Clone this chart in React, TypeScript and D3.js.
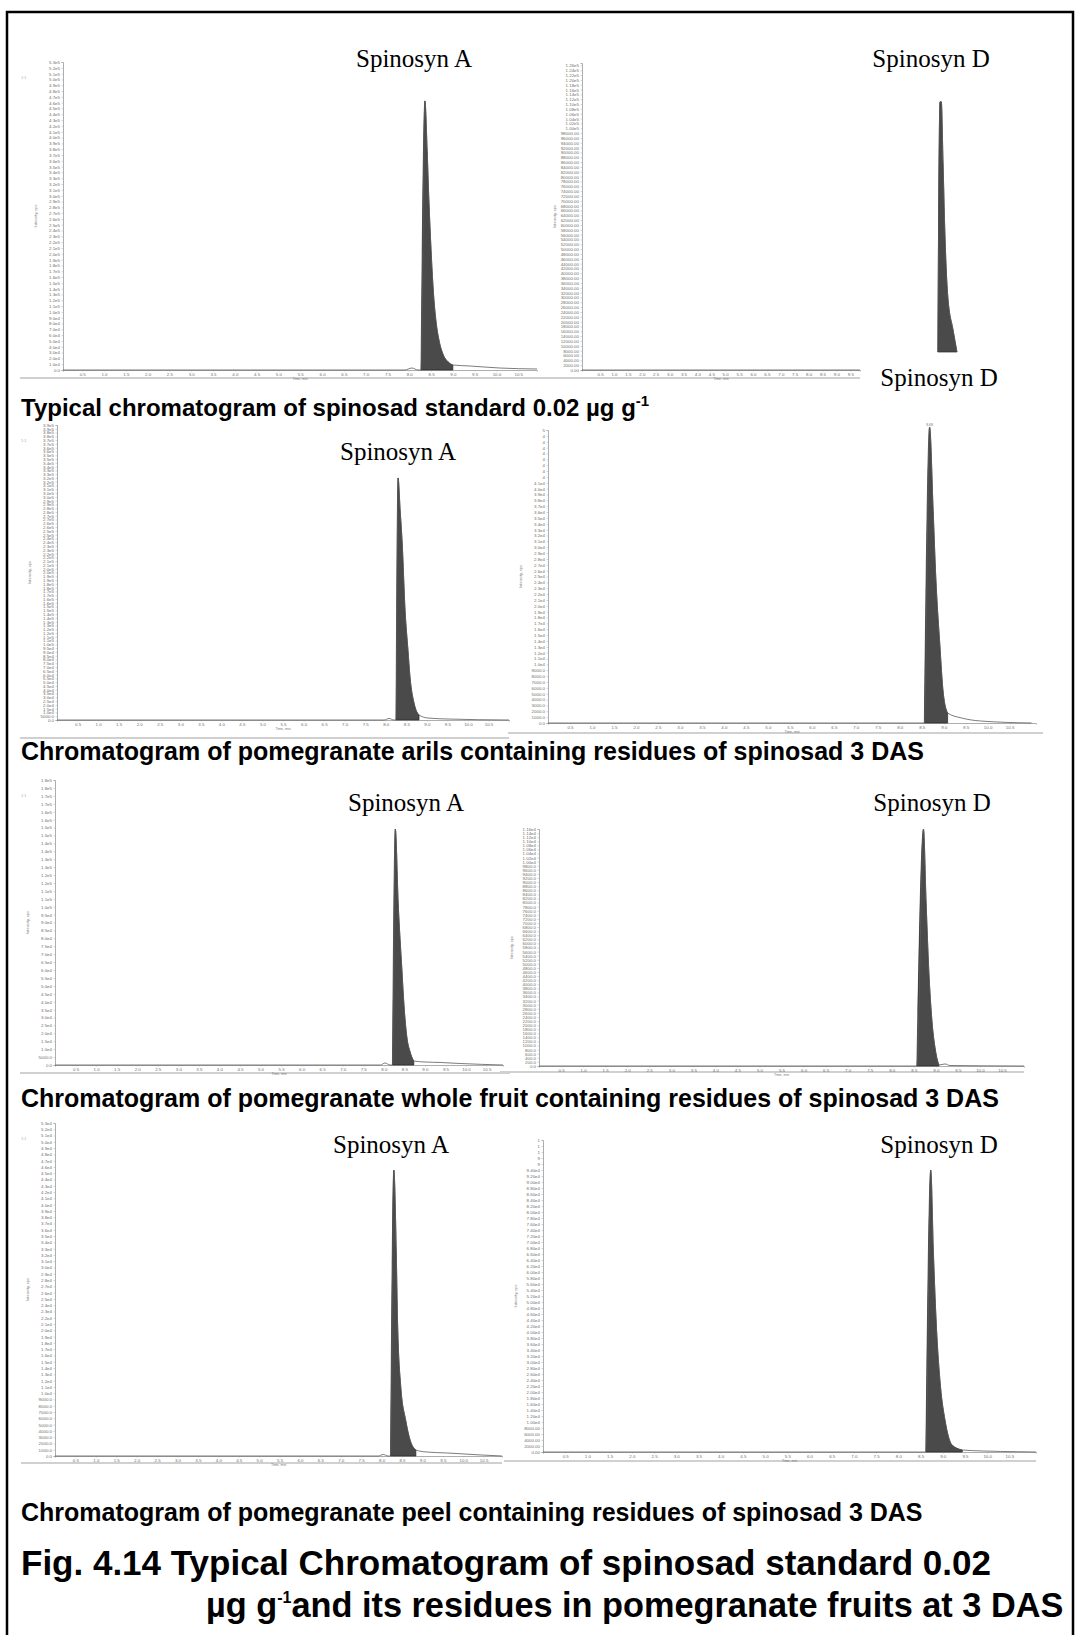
import React, { useEffect, useRef } from 'react';
import * as d3 from 'd3';

// retention time (min) and intensity (cps) of each trace
const p1Time = [0.06, 7.90, 8.06, 8.20, 8.27, 8.36, 8.41, 8.45, 8.50, 8.55, 8.61, 8.68, 8.78, 8.89, 9.00, 9.39, 10.08, 10.93];
const p1Int = [0, 0, 3400, 0, 0, 463000, 379000, 293000, 207000, 138000, 86000, 52000, 26000, 14000, 8600, 6900, 3400, 1700];
const p1Fill = [8.27, 9.00];

const p2Time = [-0.15, 9.85];
const p2Int = [0, 0];

// the Spinosyn D peak pasted beside the second trace
const p2PeakTime = [7.79, 7.84, 7.87, 7.91, 7.95, 8.02, 8.14, 8.23];
const p2PeakInt = [0, 107700, 107700, 81400, 52500, 23700, 9500, 0];
const p2PeakFill = [7.79, 8.23];

const p3Time = [0, 7.96, 8.08, 8.20, 8.25, 8.30, 8.35, 8.40, 8.47, 8.54, 8.59, 8.69, 8.81, 9.03, 9.52, 11.0];
const p3Int = [0, 0, 2000, 0, 0, 320000, 278000, 234000, 145000, 93000, 57000, 22000, 6600, 2600, 1300, 0];
const p3Fill = [8.25, 8.81];

const p4Time = [0, 8.56, 8.68, 8.76, 8.82, 8.91, 8.99, 9.09, 9.41, 9.84, 11.0];
const p4Int = [0, 0, 50500, 36300, 24900, 13600, 5100, 1700, 850, 340, 0];
const p4Fill = [8.56, 9.09];

const p5Time = [0, 7.92, 8.03, 8.15, 8.21, 8.28, 8.35, 8.44, 8.49, 8.56, 8.64, 8.73, 9.00, 9.37, 9.85, 10.9];
const p5Int = [0, 0, 1300, 0, 0, 149000, 102000, 60000, 38000, 17700, 8200, 2500, 1900, 1600, 950, 0];
const p5Fill = [8.21, 8.73];

const p6Time = [0, 8.57, 8.72, 8.78, 8.84, 8.91, 8.99, 9.07, 9.21, 9.32, 11.0];
const p6Int = [0, 0, 11590, 7970, 4690, 2250, 780, 50, 100, 25, 0];
const p6Fill = [8.57, 9.07];

const p7Time = [0, 7.92, 8.04, 8.16, 8.22, 8.30, 8.36, 8.39, 8.47, 8.59, 8.70, 8.84, 9.09, 9.61, 10.44, 10.95];
const p7Int = [0, 0, 240, 0, 0, 45500, 32300, 21700, 11000, 5700, 2500, 950, 640, 480, 160, 0];
const p7Fill = [8.22, 8.84];

const p8Time = [0, 8.62, 8.73, 8.79, 8.85, 8.95, 9.05, 9.21, 9.44, 9.91, 10.68, 11.1];
const p8Int = [0, 0, 94000, 66300, 44000, 21700, 10700, 2300, 670, 330, 100, 0];
const p8Fill = [8.62, 9.44];

// tick labels
const xTicks = d3.range(0.5, 10.51, 0.5);
const xTicksShort = d3.range(0.5, 9.51, 0.5);
const p1YTicks = d3.range(0, 530001, 10000);
const p2YTicks = d3.range(0, 126001, 2000);
const p3YTicks = d3.range(0, 390001, 5000);
const p4YTicks = d3.range(0, 50001, 1000);
const p5YTicks = d3.range(0, 180001, 5000);
const p6YTicks = d3.range(0, 11601, 200);
const p7YTicks = d3.range(0, 53001, 1000);
const p8YTicks = d3.range(0, 104001, 2000);

const captions = [
  'Typical chromatogram of spinosad standard 0.02 µg g',
  'Chromatogram of pomegranate arils containing residues of spinosad 3 DAS',
  'Chromatogram of pomegranate whole fruit containing residues of spinosad 3 DAS',
  'Chromatogram of pomegranate peel containing residues of spinosad 3 DAS',
];
const titleLine1 = 'Fig. 4.14 Typical Chromatogram of spinosad standard 0.02';
const titleLine2a = 'µg g';
const titleLine2b = 'and its residues in pomegranate fruits at 3 DAS';
const peakNames = ['Spinosyn A', 'Spinosyn D', 'Spinosyn D', 'Spinosyn A', 'Spinosyn A', 'Spinosyn D', 'Spinosyn A', 'Spinosyn D'];

const panels = [
  { L: 63, R: 537, T: 62, B: 370, t0: 0.06, t1: 10.93, yMax: 530000, yTicks: p1YTicks, fx: 1, ex: 1, thr: 1e4, trunc: Infinity, time: p1Time, int: p1Int, fill: p1Fill, xt: xTicks, axes: true, grey: [20, 540, 378] },
  { L: 582, R: 860, T: 63, B: 370, t0: -0.15, t1: 9.85, yMax: 127000, yTicks: p2YTicks, fx: 2, ex: 2, thr: 1e5, trunc: Infinity, time: p2Time, int: p2Int, fill: null, xt: xTicksShort, axes: true, grey: [540, 860, 378] },
  { L: 860, R: 1040, T: 64, B: 352, t0: 6.0, t1: 10.14, yMax: 124000, yTicks: [], fx: 1, ex: 1, thr: 1e4, trunc: Infinity, time: p2PeakTime, int: p2PeakInt, fill: p2PeakFill, xt: [], axes: false, grey: null },
  { L: 57, R: 509, T: 425, B: 720, t0: 0, t1: 11.0, yMax: 390000, yTicks: p3YTicks, fx: 1, ex: 1, thr: 1e4, trunc: Infinity, time: p3Time, int: p3Int, fill: p3Fill, xt: xTicks, axes: true, grey: [20, 509, 738] },
  { L: 548, R: 1036, T: 430, B: 723, t0: 0, t1: 11.1, yMax: 50000, yTicks: p4YTicks, fx: 1, ex: 1, thr: 1e4, trunc: 41500, time: p4Time, int: p4Int, fill: p4Fill, xt: xTicks, axes: true, grey: [508, 1043, 733] },
  { L: 55, R: 503, T: 780, B: 1065, t0: 0, t1: 10.9, yMax: 180000, yTicks: p5YTicks, fx: 1, ex: 1, thr: 1e4, trunc: Infinity, time: p5Time, int: p5Int, fill: p5Fill, xt: xTicks, axes: true, grey: [20, 510, 1073] },
  { L: 539, R: 1024, T: 829, B: 1066, t0: 0, t1: 11.0, yMax: 11600, yTicks: p6YTicks, fx: 1, ex: 2, thr: 1e4, trunc: Infinity, time: p6Time, int: p6Int, fill: p6Fill, xt: xTicks, axes: true, grey: [500, 1024, 1072] },
  { L: 55, R: 502, T: 1123, B: 1456, t0: 0, t1: 10.95, yMax: 53000, yTicks: p7YTicks, fx: 1, ex: 1, thr: 1e4, trunc: Infinity, time: p7Time, int: p7Int, fill: p7Fill, xt: xTicks, axes: true, grey: [21, 502, 1463] },
  { L: 543, R: 1036, T: 1140, B: 1452, t0: 0, t1: 11.1, yMax: 104000, yTicks: p8YTicks, fx: 2, ex: 2, thr: 1e4, trunc: 94500, time: p8Time, int: p8Int, fill: p8Fill, xt: xTicks, axes: true, grey: [504, 1036, 1461] },
];

const labelPos = [
  [414, 67], [931, 67], [939, 386], [398, 460], [406, 811], [932, 811], [391, 1153], [939, 1153],
];
const captionY = [416, 760, 1107, 1521];
const captionSize = [24, 25, 25, 25];

const sans = 'Liberation Sans, Arial, sans-serif';
const serif = 'Liberation Serif, Times New Roman, serif';

export default function App() {
  const ref = useRef<SVGSVGElement>(null);

  useEffect(() => {
    const svg = d3.select(ref.current);
    svg.selectAll('.panel').remove();

    panels.forEach((p) => {
      const g = svg.append('g').attr('class', 'panel');
      const x = d3.scaleLinear().domain([p.t0, p.t1]).range([p.L, p.R]);
      const y = d3.scaleLinear().domain([0, p.yMax]).range([p.B, p.T]);
      const data = p.time.map((t, i) => ({ t, v: p.int[i] }));

      if (p.grey) {
        g.append('line')
          .attr('x1', p.grey[0]).attr('x2', p.grey[1])
          .attr('y1', p.grey[2]).attr('y2', p.grey[2])
          .attr('stroke', '#d0d0d0').attr('stroke-width', 2);
      }

      if (p.axes) {
        const fmt = (v: number) => {
          let s = v === 0 ? (0).toFixed(p.fx) : v < p.thr ? v.toFixed(p.fx) : v.toExponential(p.ex).replace('e+', 'e');
          if (v > p.trunc) s = s[0];
          return s;
        };
        const ya = g.append('g').call(
          d3.axisLeft(y).tickValues(p.yTicks).tickSize(1.5).tickPadding(1.5).tickFormat(fmt as any)
        ).attr('transform', `translate(${p.L},0)`);
        const xa = g.append('g').call(
          d3.axisBottom(x).tickValues(p.xt).tickSize(1.5).tickPadding(1.5).tickFormat(d3.format('.1f'))
        ).attr('transform', `translate(0,${p.B})`);
        [ya, xa].forEach((a) => {
          a.attr('font-size', 4.4).attr('font-family', sans);
          a.select('.domain').attr('stroke', '#999').attr('stroke-width', 0.8);
          a.selectAll('.tick line').attr('stroke', '#a8a8a8').attr('stroke-width', 0.5);
          a.selectAll('.tick text').attr('fill', '#6e6e6e');
        });
        g.append('text')
          .attr('transform', `translate(${p.L - 26},${(p.T + p.B) / 2}) rotate(-90)`)
          .attr('text-anchor', 'middle').attr('font-size', 4).attr('font-family', sans)
          .attr('fill', '#7a7a7a').text('Intensity, cps');
        g.append('text')
          .attr('x', (p.L + p.R) / 2).attr('y', p.B + 10)
          .attr('text-anchor', 'middle').attr('font-size', 3.5).attr('font-family', sans)
          .attr('fill', '#7a7a7a').text('Time, min');
        if (p.L < 100) {
          g.append('text')
            .attr('x', 21).attr('y', p.T + 17)
            .attr('font-size', 4).attr('font-family', sans)
            .attr('fill', '#b0b0b0').text('1:1');
        }
      }

      if (p.fill) {
        const area = d3.area<{ t: number; v: number }>()
          .x((d) => x(d.t)).y0(y(0)).y1((d) => y(d.v))
          .curve(d3.curveMonotoneX);
        g.append('path')
          .datum(data.filter((d) => d.t >= p.fill[0] && d.t <= p.fill[1]))
          .attr('d', area)
          .attr('fill', '#4a4a4a').attr('stroke', '#262626').attr('stroke-width', 0.7);
      }

      const line = d3.line<{ t: number; v: number }>()
        .x((d) => x(d.t)).y((d) => y(d.v))
        .curve(d3.curveMonotoneX);
      g.append('path')
        .datum(data)
        .attr('d', line)
        .attr('fill', 'none').attr('stroke', '#5a5a5a').attr('stroke-width', 0.8);
    });

    // retention time printed over the arils Spinosyn D peak
    const p4 = panels[4];
    const x4 = d3.scaleLinear().domain([p4.t0, p4.t1]).range([p4.L, p4.R]);
    const y4 = d3.scaleLinear().domain([0, p4.yMax]).range([p4.B, p4.T]);
    const apex = d3.maxIndex(p4.int);
    svg.append('text').attr('class', 'panel')
      .attr('x', x4(p4.time[apex])).attr('y', y4(p4.int[apex]) - 1.5)
      .attr('text-anchor', 'middle').attr('font-size', 3.5).attr('font-family', sans)
      .attr('fill', '#777').text(p4.time[apex].toFixed(2));
  }, []);

  return (
    <svg ref={ref} width={1078} height={1635}
      style={{ position: 'absolute', left: 0, top: 0, background: '#fff' }}>
      <rect x={0} y={0} width={1078} height={1635} fill="#fff" />
      <rect x={7} y={12} width={1066} height={1640} fill="none" stroke="#000" strokeWidth={2.5} />

      {peakNames.map((n, i) => (
        <text key={i} x={labelPos[i][0]} y={labelPos[i][1]} textAnchor="middle"
          fontFamily={serif} fontSize={25} fill="#000">{n}</text>
      ))}

      {captions.map((c, i) => (
        <text key={c} x={21} y={captionY[i]} fontFamily={sans} fontWeight="bold" fontSize={captionSize[i]} fill="#000">
          {c}
          {i === 0 ? <tspan dy={-10} fontSize={15}>-1</tspan> : null}
        </text>
      ))}

      <text x={21} y={1575} fontFamily={sans} fontWeight="bold" fontSize={35} fill="#000">{titleLine1}</text>
      <text x={206} y={1617} fontFamily={sans} fontWeight="bold" fontSize={34.3} fill="#000">
        {titleLine2a}
        <tspan dy={-14} fontSize={16}>-1</tspan>
        <tspan dy={14}>{titleLine2b}</tspan>
      </text>
    </svg>
  );
}
